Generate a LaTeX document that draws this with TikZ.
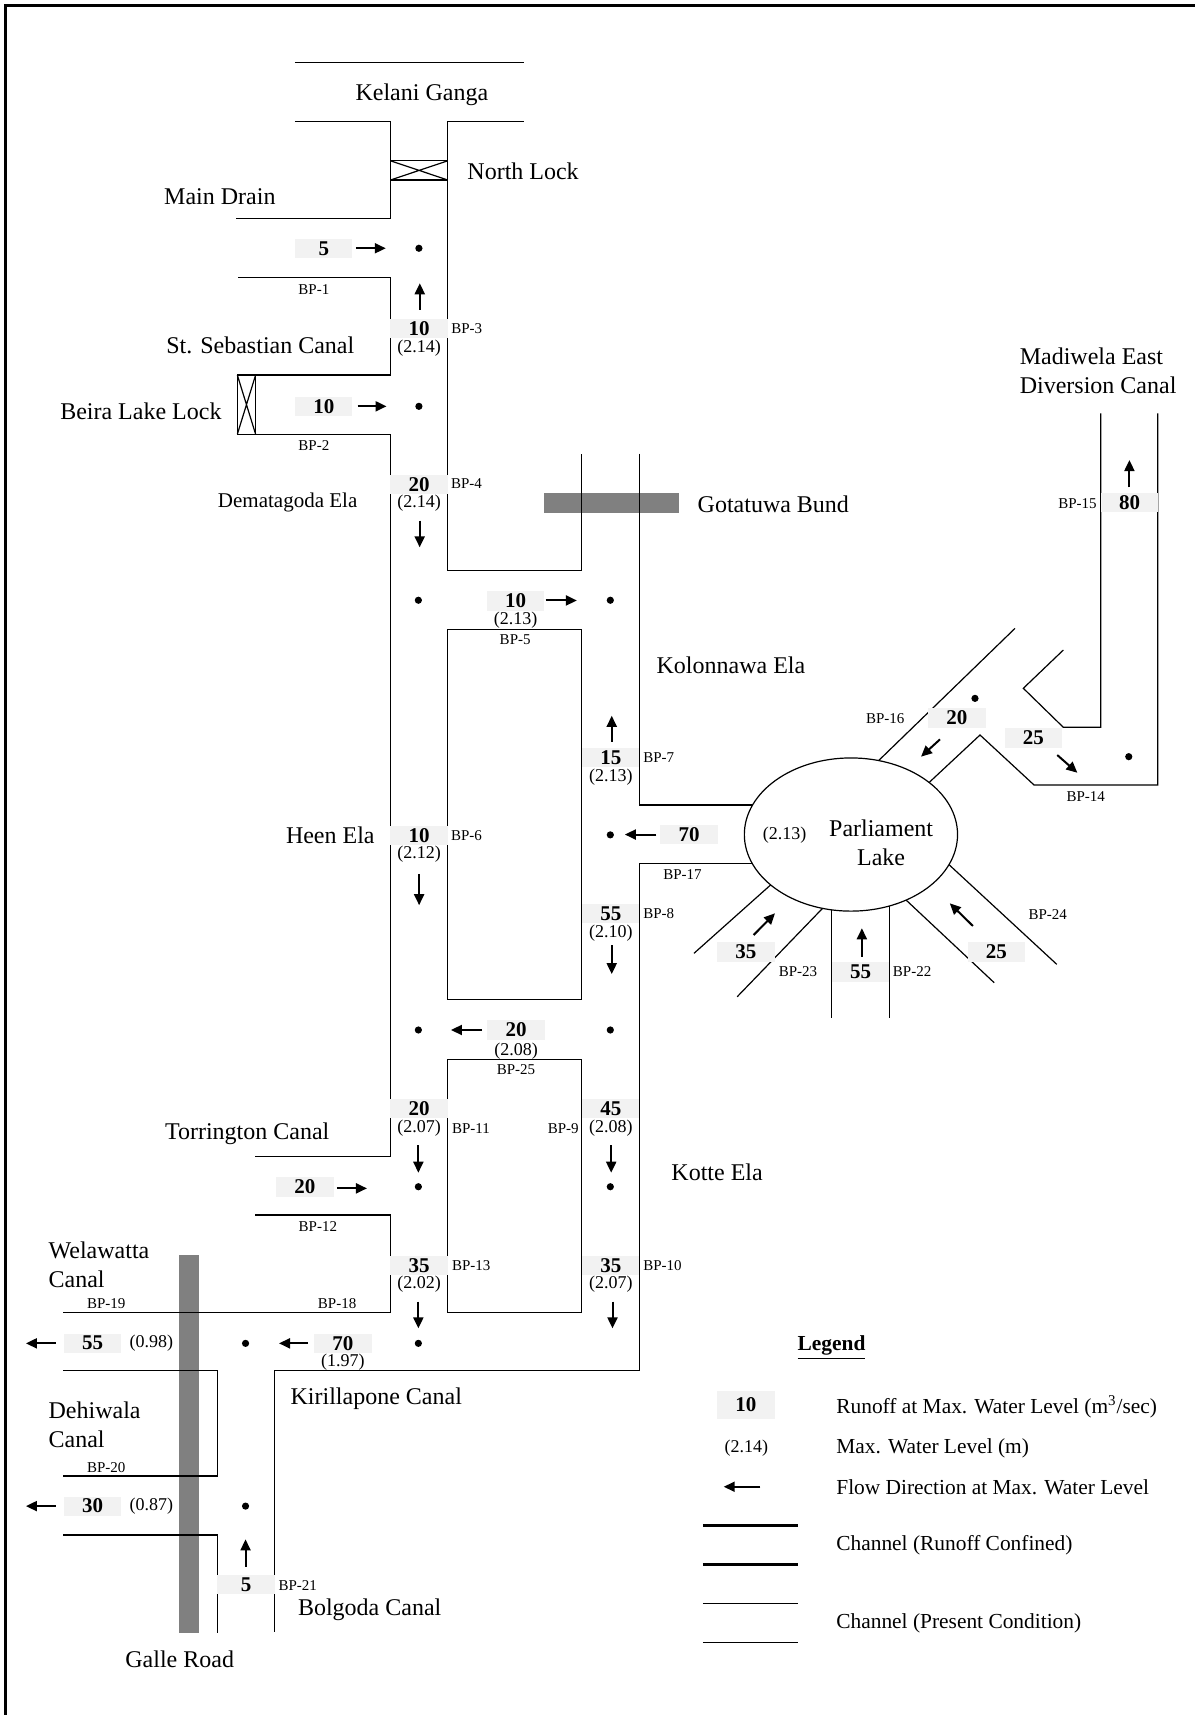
\documentclass[tikz,border=0pt]{standalone}
\usepackage{fontspec}
\setmainfont{Liberation Serif}
\usetikzlibrary{arrows.meta,shapes.geometric}
\definecolor{boxgray}{HTML}{F2F2F2}
\definecolor{roadgray}{HTML}{808080}

\begin{document}
\begin{tikzpicture}[x=0.5469pt, y=-0.5469pt,
    chan/.style={line width=0.6pt},
    runoff/.style={fill=boxgray, inner sep=0pt, minimum width=28.7pt, minimum height=9.6pt, font=\fontsize{10.5}{12}\selectfont\bfseries},
    wlevel/.style={inner sep=0pt, font=\fontsize{9}{10}\selectfont},
    bp/.style={inner sep=0pt, font=\fontsize{7.5}{9}\selectfont},
    canal/.style={inner sep=0pt, align=left, font=\fontsize{12}{14.5}\selectfont},
    keytext/.style={inner sep=0pt, anchor=west, font=\fontsize{10.7}{12}\selectfont},
    flow/.style={-{Triangle[length=5.5pt,width=5pt]}, line width=1pt},
    junction/.style={circle, fill, inner sep=0pt, minimum size=3.6pt}]
    \useasboundingbox (0,0) rectangle (1092.6,1568);

    % Frame of the page
    \draw[line width=1.5pt] (5.2,1568) -- (5.2,4.6) -- (1092.6,4.6);

    % Galle Road and Gotatuwa Bund
    \fill[roadgray] (164.1,1147.4) rectangle (181.6,1493.3);
    \fill[roadgray] (497,450.8) rectangle (620.4,469);

    % Kelani Ganga and North Lock
    \draw[chan] (269.5,57.3) -- (479,57.3);
    \draw[chan] (269.5,111) -- (357,111) -- (357,200) -- (216,200);
    \draw[chan] (479,111) -- (409.4,111) -- (409.4,521.4) -- (531.8,521.4) -- (531.8,414.7);
    \draw[chan] (357,147) rectangle (409.4,164.6);
    \draw[chan] (357,147) -- (409.4,164.6) (357,164.6) -- (409.4,147);

    % St. Sebastian Canal and Beira Lake Lock
    \draw[chan] (217.6,253.6) -- (357,253.6) -- (357,342.9) -- (233.7,342.9);
    \draw[chan] (217,342.9) rectangle (233.7,397);
    \draw[chan] (217,342.9) -- (233.7,397) (217,397) -- (233.7,342.9);
    \draw[chan] (217,397) -- (357,397) -- (357,1057) -- (233.5,1057);

    % Kolonnawa Ela and Kotte Ela
    \draw[chan] (585,414.7) -- (585,736) -- (692,736);
    \draw[chan] (692,789.4) -- (585,789.4) -- (585,1253.2) -- (251,1253.2) -- (251,1492);

    % islands between Heen Ela and Kotte Ela
    \draw[chan] (409.4,575.7) rectangle (531.8,913.5);
    \draw[chan] (409.4,968.6) rectangle (531.8,1200);

    % Torrington, Welawatta, Dehiwala and Bolgoda
    \draw[chan] (233.5,1110.9) -- (357,1110.9) -- (357,1200) -- (58,1200);
    \draw[chan] (58,1253.2) -- (198.8,1253.2) -- (198.8,1349.5) -- (58,1349.5);
    \draw[chan] (58,1403.5) -- (198.8,1403.5) -- (198.8,1493.3);

    % Madiwela East Diversion Canal
    \draw[chan] (928,574.5) -- (800.3,698.3);
    \draw[chan] (972.2,594.3) -- (935.6,629.3) -- (972.2,665) -- (1006.4,665) -- (1006.4,378);
    \draw[chan] (846.7,718) -- (896,672) -- (945.4,717.7) -- (1058.5,717.7) -- (1058.5,378);

    % channels into Parliament Lake from the south
    \draw[chan] (707,806.9) -- (634.5,871.6);
    \draw[chan] (755.3,827.1) -- (674,911.3);
    \draw[chan] (760.5,826) -- (760.5,931);
    \draw[chan] (813.2,822) -- (813.2,931);
    \draw[chan] (826.7,821.3) -- (909,898.5);
    \draw[chan] (864.9,788) -- (966.2,881.7);

    % Parliament Lake
    \node[draw, chan, fill=white, ellipse, inner sep=0pt, minimum width=106.6pt, minimum height=76.6pt] (lake) at (778,763) {};

    % place names
    \node[canal] (kelani) at (385.7,86.8) {Kelani Ganga};
    \node[canal, anchor=west] (northlock) at (427,157) {North Lock};
    \node[canal] (maindrain) at (201,180) {Main Drain};
    \node[canal] (sebastian) at (238,315.4) {St. Sebastian Canal};
    \node[canal] (beira) at (128.8,376) {Beira Lake Lock};
    \node[canal, font=\fontsize{10.5}{12}\selectfont] (dematagoda) at (263,459.5) {Dematagoda Ela};
    \node[canal, anchor=west] (gotatuwa) at (637.5,460.8) {Gotatuwa Bund};
    \node[canal, anchor=west] (madiwela) at (932,339.3) {Madiwela East\\Diversion Canal};
    \node[canal, anchor=west] (kolonnawa) at (600,608.6) {Kolonnawa Ela};
    \node[canal] (heen) at (302,764) {Heen Ela};
    \node[canal, align=center] (parliament) at (805.6,771) {Parliament\\Lake};
    \node[canal] (torrington) at (226,1036.2) {Torrington Canal};
    \node[canal, anchor=west] (kotte) at (613.5,1072.2) {Kotte Ela};
    \node[canal, anchor=west] (welawatta) at (44.1,1156.3) {Welawatta\\Canal};
    \node[canal] (kirillapone) at (344,1279) {Kirillapone Canal};
    \node[canal, anchor=west] (dehiwala) at (44.1,1302.9) {Dehiwala\\Canal};
    \node[canal] (bolgoda) at (338,1471.4) {Bolgoda Canal};
    \node[canal] (galle) at (164.3,1517) {Galle Road};

    % runoff at each boundary point
    \foreach \n/\x/\y/\v in {1/296/227/5, 2/296/371.5/10, 3/383.2/300/10, 4/383.2/442.8/20,
        5/471.5/549.5/10, 6/383.2/763.6/10, 7/558.4/692.5/15, 8/558.4/835/55,
        9/558.4/1013.7/45, 10/558.4/1157/35, 11/383.2/1013.7/20, 12/278.8/1085.3/20,
        13/383.2/1157/35, 14/944.8/674.7/25, 15/1032.7/459.7/80, 16/874.8/656.5/20,
        17/630/763/70, 18/313.5/1228/70, 19/84.7/1228/55, 20/84.7/1377/30,
        21/225/1449/5, 22/786.9/888.7/55, 23/681.9/870.4/35, 24/911/870.4/25, 25/471.8/941.7/20}
        \node[runoff] (q\n) at (\x,\y) {\v};

    % maximum water levels
    \foreach \x/\y/\v [count=\i] in {383.2/318.5/2.14, 383.2/460/2.14, 471.5/566.9/2.13,
        558.4/710.4/2.13, 383.2/781.4/2.12, 558.4/853/2.10, 471.8/961/2.08, 383.2/1031.6/2.07,
        558.4/1031.6/2.08, 383.2/1174.3/2.02, 558.4/1174.3/2.07, 313.5/1245/1.97,
        138.4/1228/0.98, 138.4/1377/0.87, 717.3/763.4/2.13}
        \node[wlevel] (wl\i) at (\x,\y) {(\v)};

    % boundary point labels
    \foreach \n/\x/\y/\a in {1/287/264.5/center, 2/287/407/center, 3/412.2/300/west,
        4/412/442/west, 5/471/585/center, 6/412/764/west, 7/587.8/692.8/west,
        8/587.8/835.7/west, 9/529.4/1031.6/east, 10/587.8/1157/west, 11/413/1031.6/west,
        12/290.6/1121/center, 13/413/1157/west, 14/992.6/728.4/center, 15/1003/460.2/east,
        16/809.4/656.8/center, 17/624/800/center, 18/308.2/1191.6/center,
        19/97.2/1191.6/center, 20/97.2/1341.9/center, 21/254.3/1449.2/west,
        22/816/888.4/west, 23/729.6/888.4/center, 24/957.9/836/center, 25/471.8/978.3/center}
        \node[bp, anchor=\a] (b\n) at (\x,\y) {BP-\n};

    % computation points
    \foreach \x/\y [count=\i] in {383/227, 383/371.5, 382.5/548.8, 558/548.8, 558/763.3,
        382.5/941.7, 558/941.7, 382.5/1085, 558/1085, 224.5/1228.2, 382.5/1228.2,
        224.5/1377, 891.4/638.5, 1032/691.8}
        \node[junction] (j\i) at (\x,\y) {};

    % flow directions at maximum water level
    \foreach \xa/\ya/\xb/\yb in {325.4/227/352.7/227, 383.8/283.4/383.8/259, 327/371.5/353.4/371.5,
        383.7/476/383.7/500.4, 498.8/549/527.4/549, 559.3/678.2/559.3/654.4, 600/763/571.3/763,
        383.2/798.9/383.2/827.6, 559.3/864.4/559.3/890.6, 440.8/941.7/412.3/941.7,
        382.5/1046.9/382.5/1072.2, 558.8/1046.9/558.8/1072.2, 308.1/1086.5/335.5/1086.5,
        382.5/1190/382.5/1214.5, 560/1190/560/1214.5, 51/1228.2/23.7/1228.2,
        281.6/1228.2/255.1/1228.2, 51/1377/23.7/1377, 224.5/1432.4/224.5/1407.4,
        1032.6/445.6/1032.6/420.6, 859.4/676/842.1/691.8, 966.6/690.3/985/706.5,
        689/854.9/708.6/835, 788/874.7/788/848.7, 889.5/846.6/868.4/825.9}
        \draw[flow] (\xa,\ya) -- (\xb,\yb);

    % Legend
    \node[inner sep=0pt, font=\fontsize{10.7}{12}\selectfont\bfseries] (legend) at (760.3,1231.9) {\underline{Legend}};
    \node[runoff, minimum height=14pt] (key1) at (682,1284.6) {10};
    \node[wlevel] (key2) at (682.3,1324.2) {(2.14)};
    \draw[flow] (695.3,1359.3) -- (661.7,1359.3);
    \draw[line width=1.7pt] (642.6,1394.6) -- (729.3,1394.6);
    \draw[line width=1.7pt] (642.6,1430.3) -- (729.3,1430.3);
    \draw[chan] (642.6,1465.9) -- (729.3,1465.9);
    \draw[chan] (642.6,1501.6) -- (729.3,1501.6);
    \node[keytext] (t1) at (764.3,1286.1) {Runoff at Max. Water Level (m\textsuperscript{3}/sec)};
    \node[keytext] (t2) at (764.3,1324.2) {Max. Water Level (m)};
    \node[keytext] (t3) at (764.3,1359.3) {Flow Direction at Max. Water Level};
    \node[keytext] (t4) at (764.3,1412.5) {Channel (Runoff Confined)};
    \node[keytext] (t5) at (764.3,1484.2) {Channel (Present Condition)};
\end{tikzpicture}
\end{document}
